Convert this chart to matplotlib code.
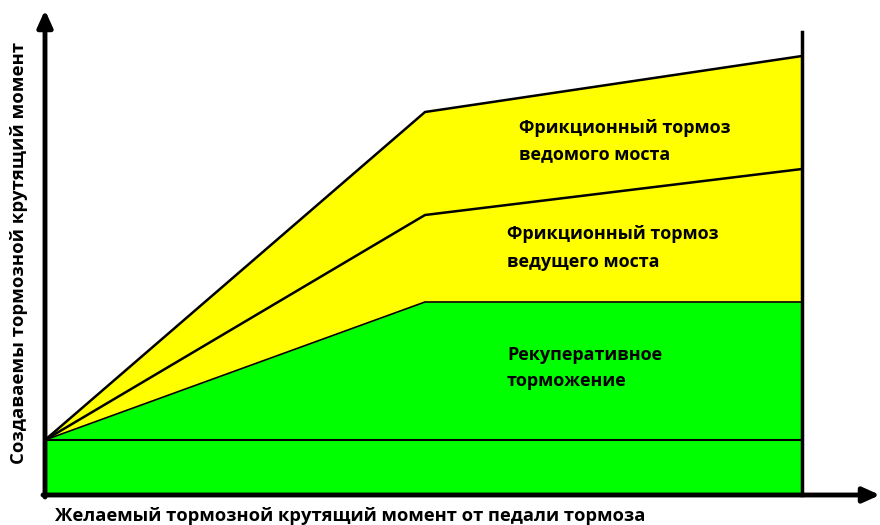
import matplotlib
matplotlib.use("Agg")
import matplotlib.pyplot as plt

# Data (pedal demand vs produced torque, arbitrary units)
x_pts = [0, 380, 757]
regen = [55, 193, 193]          # top of regenerative braking
drive_axle = [55, 280, 326]     # top of driving-axle friction brake
driven_axle = [55, 383, 439]    # top of driven-axle friction brake
base_level = 55
x_end = 757
y_end_top = 463

labels = {
    "driven": "Фрикционный тормоз\nведомого моста",
    "drive": "Фрикционный тормоз\nведущего моста",
    "regen": "Рекуперативное\nторможение",
}
xlabel = "Желаемый тормозной крутящий момент от педали тормоза"
ylabel = "Создаваемы тормозной крутящий момент"

plt.rcParams['font.family'] = ['Open Sans', 'DejaVu Sans']

fig = plt.figure(figsize=(8.8, 5.25), dpi=100)
ax = fig.add_axes([0, 0, 1, 1])
ax.set_xlim(-45, 835)
ax.set_ylim(-30, 495)
ax.axis('off')

yellow = '#FFFF00'
green = '#00FF00'

ax.fill_between(x_pts, regen, driven_axle, color=yellow, lw=0)
ax.fill_between(x_pts, 0, regen, color=green, lw=0)

ax.plot(x_pts, driven_axle, color='black', lw=1.8)
ax.plot(x_pts, drive_axle, color='black', lw=1.8)
ax.plot(x_pts, regen, color='black', lw=1.2)
ax.plot([0, x_end], [base_level, base_level], color='black', lw=1.5)
ax.plot([x_end, x_end], [0, y_end_top], color='black', lw=2.5)

# Axes with arrows
ax.annotate('', xy=(0, 485), xytext=(0, -2),
            arrowprops=dict(arrowstyle='-|>,head_length=1.0,head_width=0.45',
                            lw=3.5, color='black', shrinkA=0, shrinkB=0))
ax.annotate('', xy=(835, 0), xytext=(-2, 0),
            arrowprops=dict(arrowstyle='-|>,head_length=1.0,head_width=0.45',
                            lw=3.5, color='black', shrinkA=0, shrinkB=0))

ax.text(474, 354, labels["driven"], fontsize=13, fontweight='bold',
        ha='left', va='center', linespacing=1.6)
ax.text(462, 247, labels["drive"], fontsize=13, fontweight='bold',
        ha='left', va='center', linespacing=1.7)
ax.text(462, 127, labels["regen"], fontsize=13, fontweight='bold',
        ha='left', va='center', linespacing=1.6)

ax.text(10, -21, xlabel, fontsize=13.2, fontweight='bold', ha='left', va='center')
ax.text(-26, 242, ylabel, fontsize=13.3, fontweight='bold', ha='center',
        va='center', rotation=90)

fig.savefig('out.png', dpi=100)
